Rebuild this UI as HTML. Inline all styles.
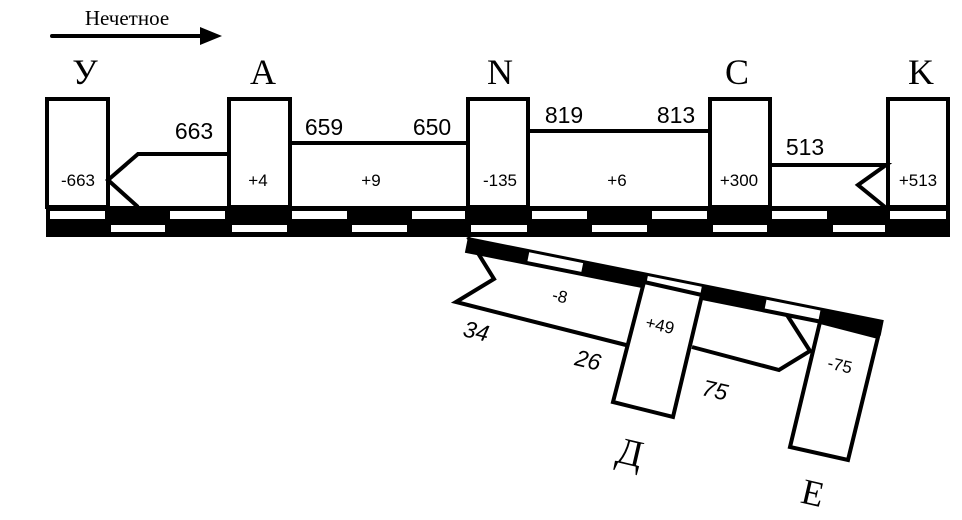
<!DOCTYPE html>
<html><head><meta charset="utf-8"><style>html,body{margin:0;padding:0;background:#fff}svg{display:block}</style></head><body>
<svg width="962" height="520" viewBox="0 0 962 520" xmlns="http://www.w3.org/2000/svg">
<g font-family="Liberation Serif, DejaVu Serif, serif" fill="#000">
<text x="127" y="25" font-size="21" text-anchor="middle">Нечетное</text>
<text x="85" y="84" font-size="36" text-anchor="middle">У</text>
<text x="263" y="84" font-size="36" text-anchor="middle">A</text>
<text x="500" y="84" font-size="36" text-anchor="middle">N</text>
<text x="737" y="84" font-size="36" text-anchor="middle">C</text>
<text x="921" y="84" font-size="36" text-anchor="middle">K</text>
<text x="630" y="465" font-size="38" text-anchor="middle" transform="rotate(13 630 452)">Д</text>
<text x="813" y="505" font-size="36" text-anchor="middle" transform="rotate(13 813 492)">E</text>
</g>
<line x1="52" y1="36" x2="205" y2="36" stroke="#000" stroke-width="4" stroke-linecap="round"/>
<polygon points="222,36 200,27 200,45" fill="#000"/>
<rect x="46" y="206" width="904" height="31" fill="#000"/>
<g fill="#fff">
<rect x="50" y="211" width="55" height="8"/><rect x="170" y="211" width="55" height="8"/><rect x="292" y="211" width="55" height="8"/><rect x="412" y="211" width="53" height="8"/><rect x="532" y="211" width="55" height="8"/><rect x="652" y="211" width="55" height="8"/><rect x="772" y="211" width="55" height="8"/><rect x="890" y="211" width="56" height="8"/>
<rect x="111" y="225" width="54" height="7"/><rect x="232" y="225" width="55" height="7"/><rect x="352" y="225" width="55" height="7"/><rect x="471" y="225" width="56" height="7"/><rect x="592" y="225" width="55" height="7"/><rect x="713" y="225" width="54" height="7"/><rect x="833" y="225" width="52" height="7"/>
</g>
<g fill="#fff" stroke="#000" stroke-width="4">
<rect x="47" y="99" width="61" height="108"/>
<rect x="229" y="99" width="61" height="108"/>
<rect x="468" y="99" width="60" height="108"/>
<rect x="710" y="99" width="60" height="108"/>
<rect x="888" y="99" width="60" height="108"/>
</g>
<g fill="none" stroke="#000" stroke-width="4">
<polyline points="229,154 138,154 108,180 138,207"/>
<line x1="290" y1="143" x2="468" y2="143"/>
<line x1="528" y1="131" x2="710" y2="131"/>
<polyline points="770,165 886,165 858,185 885,207"/>
<polyline points="468,237 494,279 456,302 626,345"/>
<polyline points="692,347 779,370 810,351 787,315"/>
</g>
<g transform="translate(468,237) rotate(11.3)">
<rect x="0" y="0" width="424" height="16" fill="#000"/>
<g fill="#fff">
<rect x="63" y="3" width="55" height="9"/><rect x="184" y="3" width="55" height="9"/><rect x="305" y="3" width="55" height="9"/>
</g>
</g>
<polygon points="644,282 702,295 673,417 613,402" fill="#fff" stroke="#000" stroke-width="4"/>
<polygon points="820,322 878,337 848,460 790,447" fill="#fff" stroke="#000" stroke-width="4"/>
<g font-family="Liberation Sans, Arial, sans-serif" fill="#000">
<g font-size="23" text-anchor="middle">
<text x="194" y="139">663</text><text x="324" y="135">659</text><text x="432" y="135">650</text>
<text x="564" y="123">819</text><text x="676" y="123">813</text><text x="805" y="155">513</text>
<text x="476" y="339" font-style="italic" transform="rotate(13 476 332)">34</text>
<text x="588" y="368" font-style="italic" transform="rotate(13 588 360)">26</text>
<text x="715" y="398" font-style="italic" transform="rotate(13 715 390)">75</text>
</g>
<g font-size="17" text-anchor="middle">
<text x="78" y="186">-663</text><text x="258" y="186">+4</text><text x="371" y="186">+9</text>
<text x="500" y="186">-135</text><text x="617" y="186">+6</text><text x="739" y="186">+300</text><text x="918" y="186">+513</text>
<text x="560" y="302" transform="rotate(13 560 296)">-8</text>
<text x="660" y="331" transform="rotate(13 660 325)">+49</text>
<text x="840" y="371" transform="rotate(13 840 365)">-75</text>
</g>
</g>
</svg>
</body></html>
